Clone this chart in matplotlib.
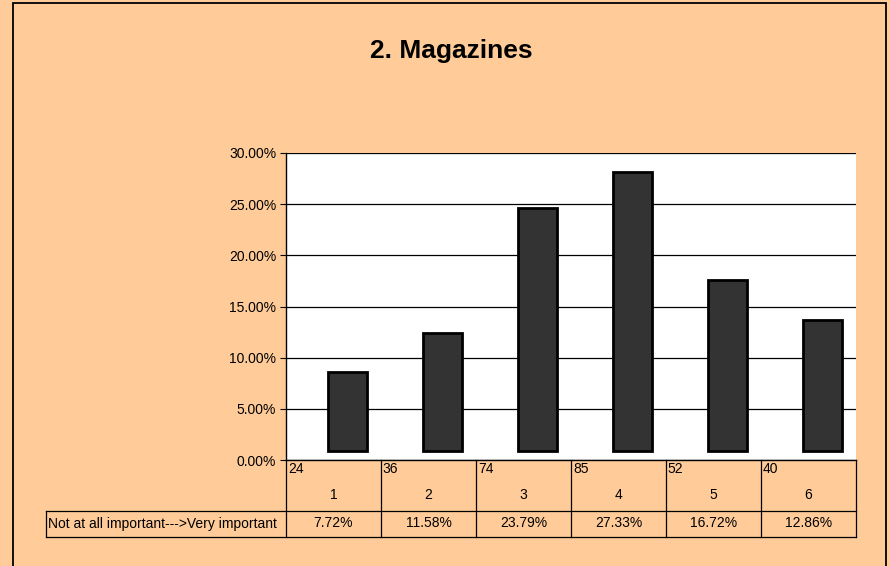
import matplotlib
matplotlib.use("Agg")
import matplotlib.pyplot as plt
from matplotlib.transforms import blended_transform_factory
from matplotlib.patches import Rectangle
from matplotlib.lines import Line2D

# ---- data ----
categories = ["1", "2", "3", "4", "5", "6"]
counts = [24, 36, 74, 85, 52, 40]
percents = [7.72, 11.58, 23.79, 27.33, 16.72, 12.86]
row_label = "Not at all important--->Very important"
title = "2. Magazines"
yticks = [0, 5, 10, 15, 20, 25, 30]

BG = "#FFCC99"
plt.rcParams['font.family'] = ['Liberation Sans', 'DejaVu Sans']
FS = 10

W, H = 890, 566
fig = plt.figure(figsize=(W / 100, H / 100), dpi=100, facecolor=BG)

def fx(px):
    return px / W

def fy(py):
    return 1 - py / H

# outer frame
fig.add_artist(Rectangle((fx(13), fy(600)), fx(886) - fx(13), fy(3) - fy(600),
                         transform=fig.transFigure, fill=False, edgecolor="black", lw=1.3))

ax_l, ax_r, ax_t, ax_b = 286, 856, 153, 460
ax = fig.add_axes([fx(ax_l), fy(ax_b), fx(ax_r) - fx(ax_l), fy(ax_t) - fy(ax_b)])
ax.set_facecolor("white")

x = list(range(len(categories)))
offset = 0.85
shift = 0.145
ax.bar([v + shift for v in x], percents, bottom=offset, width=0.41, color="#333333",
       edgecolor="black", linewidth=2.0, zorder=3)
ax.set_xlim(-0.5, len(categories) - 0.5)
ax.set_ylim(0, 30)
ax.set_yticks(yticks)
ax.set_yticklabels([f"{v:.2f}%" for v in yticks], fontsize=FS)
ax.yaxis.grid(True, color="black", lw=0.9)
ax.set_axisbelow(True)
ax.set_xticks([])
for s in ["top", "right", "bottom"]:
    ax.spines[s].set_visible(False)
ax.spines["left"].set_linewidth(1.0)
ax.tick_params(axis="y", length=4, width=0.8, pad=3)

fig.text(fx(451), fy(51), title, ha="center", va="center", fontsize=19, fontweight="bold")

# ---- data table below ----
tr = blended_transform_factory(ax.transData, fig.transFigure)
r1_top, r1_bot, r2_bot = 460, 511, 537
lw = 0.9
fig.add_artist(Line2D([fx(ax_l), fx(ax_r)], [fy(r1_top)] * 2, transform=fig.transFigure, color="black", lw=1.0))
fig.add_artist(Line2D([fx(46), fx(ax_r)], [fy(r1_bot)] * 2, transform=fig.transFigure, color="black", lw=lw))
fig.add_artist(Line2D([fx(46), fx(ax_r)], [fy(r2_bot)] * 2, transform=fig.transFigure, color="black", lw=lw))
fig.add_artist(Line2D([fx(46), fx(46)], [fy(r1_bot), fy(r2_bot)], transform=fig.transFigure, color="black", lw=lw))
for i in range(len(categories) + 1):
    xe = i - 0.5
    fig.add_artist(Line2D([xe, xe], [fy(r1_top), fy(r2_bot)], transform=tr, color="black", lw=lw))

for i, (c, n, p) in enumerate(zip(categories, counts, percents)):
    fig.text(i - 0.5 + 0.02, fy(469), str(n), transform=tr, ha="left", va="center", fontsize=FS)
    fig.text(i, fy(495), c, transform=tr, ha="center", va="center", fontsize=FS)
    fig.text(i, fy(523), f"{p:.2f}%", transform=tr, ha="center", va="center", fontsize=FS)

fig.text(fx(48), fy(524), row_label, ha="left", va="center", fontsize=FS)

fig.savefig("out.png", dpi=100, facecolor=BG)
